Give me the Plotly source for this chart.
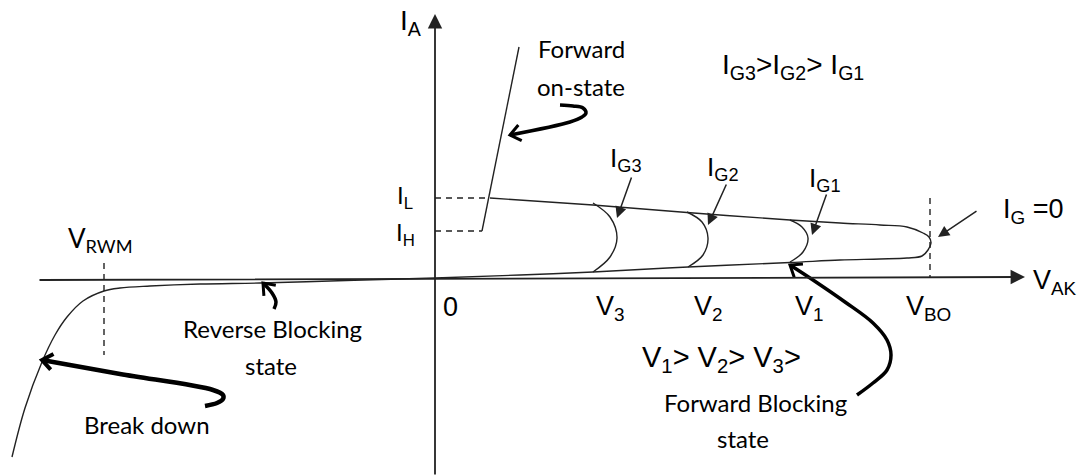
import numpy as np
import plotly.graph_objects as go

# diagram drawn in picture coordinates (x to the right, y downwards)
W, H = 1089, 476

# axes (tail -> tip)
axis_h = [(38, 280), (1025, 277)]
axis_v = [(435, 476), (435, 14)]

# reverse characteristic (break down -> origin)
rev_x = [12, 25, 42, 55, 67, 83, 104, 120, 150, 200, 260, 330, 400, 435]
rev_y = [457, 408, 362, 335, 317, 301, 291, 288, 286, 284, 283, 281, 279, 278]

# forward blocking loop for I_G = 0 (lower branch -> tip -> upper branch)
fb_x = [435, 520, 593, 688, 790, 840, 880, 907, 922, 928, 931, 929, 923, 907, 880, 840, 790, 687, 593, 490]
fb_y = [278, 275, 272, 267, 262.5, 260, 259, 258, 256, 250, 243, 237, 233, 227, 225, 223, 220, 212.5, 205, 198]

# gate current arcs (top -> bulge -> bottom)
g3_x = [593, 610, 617, 610, 593]
g3_y = [203, 217, 238, 257, 272]
g2_x = [687, 702, 708, 703, 688]
g2_y = [212, 222, 238, 255, 267]
g1_x = [790, 802, 808, 803, 790]
g1_y = [220, 227, 238, 252, 262]

# forward on-state line (from I_H level upwards)
on_x = [482, 519]
on_y = [231, 47]

# dashed guides
dash_IL = [(435, 198), (490, 198)]
dash_IH = [(435, 231), (482, 231)]
dash_RWM = [(104, 263), (104, 355)]
dash_BO = [(930, 198), (930, 277)]

# thin pointer arrows (tail, head)
ptr_IG3 = [(632, 176), (617, 218)]
ptr_IG2 = [(727, 183), (708, 225)]
ptr_IG1 = [(827, 193), (812, 235)]
ptr_IG0 = [(978, 210), (938, 237)]

# thick curved pointers (head first)
crv_break_x = [42, 120, 213, 223, 223, 217, 205]
crv_break_y = [360, 374, 390, 395, 399, 403, 406]
crv_rev_x = [263, 272, 276, 274]
crv_rev_y = [283, 293, 302, 309]
crv_on_x = [510, 570, 582, 586, 583, 573, 560]
crv_on_y = [135, 122, 117, 113, 108, 106, 105]
crv_fb_x = [790, 813, 845, 873, 887, 891, 887, 873, 857]
crv_fb_y = [265, 280, 302, 323, 340, 355, 370, 383, 395]

# labels
helv = "Liberation Sans"
cal = "Lato"
labels = [
    ("I<sub>A</sub>", 411, 22, helv, 28),
    ("I<sub>L</sub>", 405, 197, helv, 24),
    ("I<sub>H</sub>", 405, 234, helv, 24),
    ("Forward", 581, 48, cal, 24),
    ("on-state", 581, 86, cal, 24),
    ("I<sub>G3</sub>>I<sub>G2</sub>> I<sub>G1</sub>", 793, 66, helv, 28),
    ("I<sub>G3</sub>", 626, 159, helv, 26),
    ("I<sub>G2</sub>", 723, 168, helv, 26),
    ("I<sub>G1</sub>", 825, 179, helv, 26),
    ("I<sub>G</sub> =0", 1033, 211, helv, 27),
    ("V<sub>RWM</sub>", 100, 239, cal, 26),
    ("0", 450, 307, helv, 27),
    ("V<sub>3</sub>", 610, 308, helv, 27),
    ("V<sub>2</sub>", 708, 308, helv, 27),
    ("V<sub>1</sub>", 809, 308, helv, 27),
    ("V<sub>BO</sub>", 928, 308, helv, 27),
    ("V<sub>AK</sub>", 1055, 282, helv, 27),
    ("Reverse Blocking", 272, 328, cal, 24),
    ("state", 271, 365, cal, 24),
    ("Break down", 147, 424, cal, 24),
    ("V<sub>1</sub>> V<sub>2</sub>> V<sub>3</sub>>", 721, 359, helv, 29),
    ("Forward Blocking", 755, 402, cal, 24),
    ("state", 743, 438, cal, 24),
]

ink = "#222"
fig = go.Figure()


def line(xs, ys, width=1.4, dash=None, color=ink, shape="linear"):
    fig.add_trace(go.Scatter(x=xs, y=ys, mode="lines", hoverinfo="skip",
                             line=dict(color=color, width=width, dash=dash, shape=shape)))


def open_head(xs, ys, size=13, ang=38, width=4):
    # V-shaped arrow head at (xs[0], ys[0]) pointing away from the curve
    p = np.array([xs[0], ys[0]], float)
    q = np.array([xs[1], ys[1]], float)
    d = (p - q) / np.linalg.norm(p - q)
    pts = []
    for s in (1, -1):
        a = np.radians(s * ang)
        r = np.array([d[0] * np.cos(a) - d[1] * np.sin(a), d[0] * np.sin(a) + d[1] * np.cos(a)])
        pts.append(p - size * r)
    line([pts[0][0], p[0], pts[1][0]], [pts[0][1], p[1], pts[1][1]], width=width, color="black")


# characteristic curves
line(rev_x, rev_y, shape="spline")
line(fb_x, fb_y, shape="spline")
for gx, gy in [(g3_x, g3_y), (g2_x, g2_y), (g1_x, g1_y)]:
    line(gx, gy, shape="spline")
line(on_x, on_y)

for seg in [dash_IL, dash_IH, dash_RWM, dash_BO]:
    line([seg[0][0], seg[1][0]], [seg[0][1], seg[1][1]], width=1.4, dash="6px,5px")

# thick curved pointers
for cx, cy, w in [(crv_break_x, crv_break_y, 4.5), (crv_rev_x, crv_rev_y, 3.5),
                  (crv_on_x, crv_on_y, 3.5), (crv_fb_x, crv_fb_y, 3.5)]:
    line(cx, cy, width=w, color="black", shape="spline")
    open_head(cx, cy, width=w - 0.5)

annotations = []
# axes with arrow tips
for (t, h) in [axis_h, axis_v]:
    annotations.append(dict(x=h[0], y=h[1], ax=t[0], ay=t[1], xref="x", yref="y",
                            axref="x", ayref="y", text="", showarrow=True,
                            arrowhead=2, arrowsize=1.6, arrowwidth=1.8, arrowcolor=ink))
# thin pointers
for (t, h) in [ptr_IG3, ptr_IG2, ptr_IG1, ptr_IG0]:
    annotations.append(dict(x=h[0], y=h[1], ax=t[0], ay=t[1], xref="x", yref="y",
                            axref="x", ayref="y", text="", showarrow=True,
                            arrowhead=2, arrowsize=1.5, arrowwidth=1.5, arrowcolor=ink))
for txt, x, y, fam, size in labels:
    annotations.append(dict(x=x, y=y, xref="x", yref="y", text=txt, showarrow=False,
                            xanchor="center", yanchor="middle",
                            font=dict(family=fam, size=size, color="black")))

fig.update_layout(
    width=W, height=H,
    margin=dict(l=0, r=0, t=0, b=0),
    paper_bgcolor="white", plot_bgcolor="white",
    showlegend=False,
    xaxis=dict(range=[0, W], visible=False, fixedrange=True),
    yaxis=dict(range=[H, 0], visible=False, fixedrange=True),
    annotations=annotations,
)

# drop the page's default body margin so the figure sits at (0, 0)
fig.write_html("out.html", post_script="document.body.style.margin='0';",
               config={"displayModeBar": False})
